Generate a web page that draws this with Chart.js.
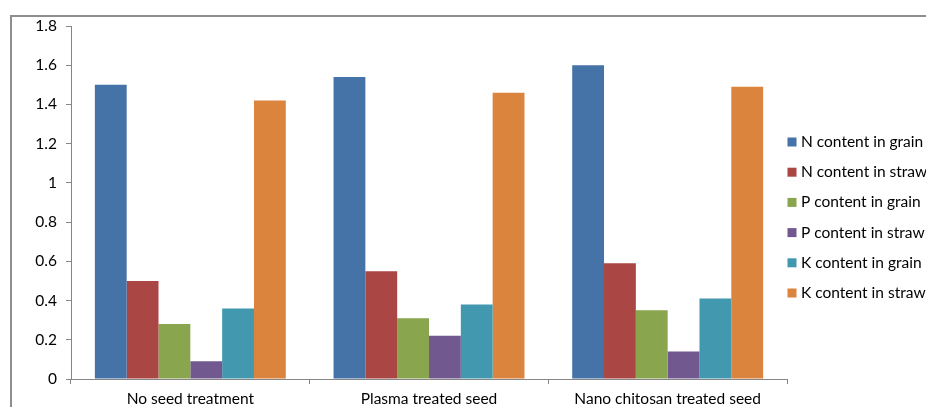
<!DOCTYPE html>
<html>
<head>
<meta charset="utf-8">
<script src="https://cdn.jsdelivr.net/npm/chart.js@4.4.1/dist/chart.umd.min.js"></script>
<style>
  html, body { margin: 0; padding: 0; background: #fff; overflow: hidden; }
  #wrap { position: relative; width: 926px; height: 407px; }
  #frame { position: absolute; left: 10px; top: 15px; width: 1000px; height: 500px;
           border-top: 2px solid #8e8e8e; border-left: 2px solid #8e8e8e; box-sizing: border-box; }
  canvas { position: absolute; left: 0; top: 0; }
</style>
</head>
<body>
<div id="wrap">
  <div id="frame"></div>
  <canvas id="c" width="926" height="407"></canvas>
</div>
<script>
const categories = ["No seed treatment", "Plasma treated seed", "Nano chitosan treated seed"];
const seriesNames = ["N content in grain", "N content in straw", "P content in grain", "P content in straw", "K content in grain", "K content in straw"];
const nGrain = [1.50, 1.54, 1.60];
const nStraw = [0.50, 0.55, 0.59];
const pGrain = [0.28, 0.31, 0.35];
const pStraw = [0.09, 0.22, 0.14];
const kGrain = [0.36, 0.38, 0.41];
const kStraw = [1.42, 1.46, 1.49];
const yTicks = [0, 0.2, 0.4, 0.6, 0.8, 1, 1.2, 1.4, 1.6, 1.8];
const colors = ["#4572A7", "#AA4643", "#89A54E", "#71588F", "#4198AF", "#DB843D"];

const seriesValues = [nGrain, nStraw, pGrain, pStraw, kGrain, kStraw];
const FONT = "Lato, 'Open Sans', sans-serif";

const legendPlugin = {
  id: 'sideLegend',
  afterDraw(chart) {
    const ctx = chart.ctx;
    const x0 = chart.chartArea.right;
    ctx.save();
    ctx.font = "15.5px " + FONT;
    ctx.textBaseline = 'middle';
    ctx.textAlign = 'left';
    chart.data.datasets.forEach((ds, i) => {
      const cy = 142 + i * 30.2;
      ctx.fillStyle = ds.backgroundColor;
      ctx.fillRect(x0 + 0.5, cy - 4.5, 9, 9);
      ctx.fillStyle = '#000';
      ctx.fillText(ds.label, x0 + 14, cy);
    });
    ctx.restore();
  }
};

new Chart(document.getElementById('c'), {
  type: 'bar',
  data: {
    labels: categories,
    datasets: seriesNames.map((name, i) => ({
      label: name,
      data: seriesValues[i],
      backgroundColor: colors[i],
      borderWidth: 0,
      categoryPercentage: 0.80,
      barPercentage: 1.0
    }))
  },
  options: {
    responsive: false,
    animation: false,
    devicePixelRatio: 1,
    layout: { padding: { left: 0, top: 26, right: 139, bottom: 0 } },
    plugins: { legend: { display: false }, tooltip: { enabled: false } },
    scales: {
      x: {
        grid: { offset: true, drawOnChartArea: false, drawTicks: true, tickLength: 5, color: '#868686' },
        border: { color: '#868686', width: 1 },
        ticks: { color: '#000', font: { family: FONT, size: 15.5 }, padding: 6, maxRotation: 0 },
        afterFit(axis) { axis.height = 28; }
      },
      y: {
        min: 0, max: 1.8,
        afterBuildTicks(axis) { axis.ticks = yTicks.map(v => ({ value: v })); },
        grid: { drawOnChartArea: false, drawTicks: true, tickLength: 5, color: '#868686' },
        border: { color: '#868686', width: 1 },
        ticks: { color: '#000', font: { family: FONT, size: 15.5 }, padding: 9,
                 callback: v => String(v) },
        afterFit(axis) { axis.width = 71; }
      }
    }
  },
  plugins: [legendPlugin]
});
</script>
</body>
</html>
